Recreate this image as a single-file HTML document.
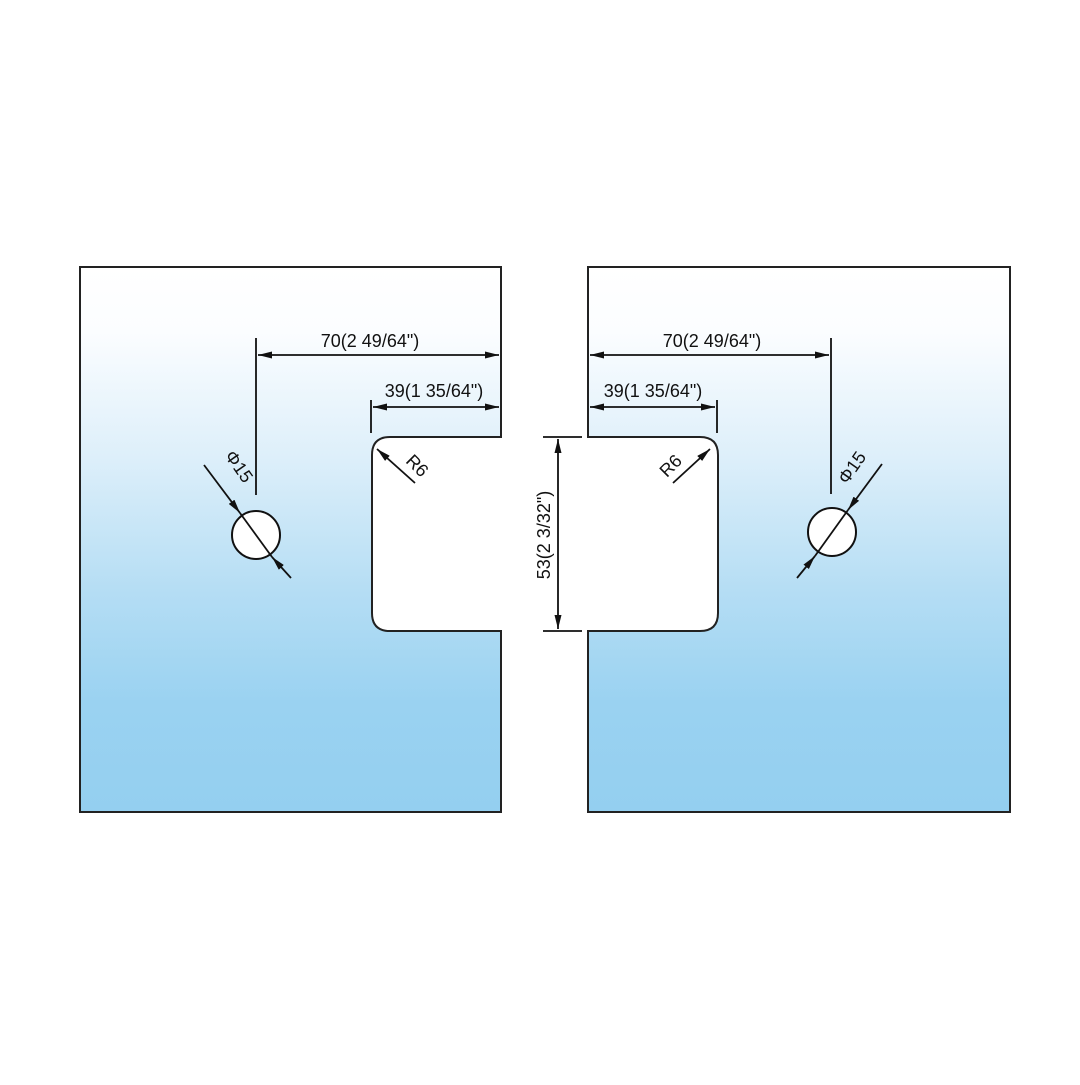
<!DOCTYPE html>
<html><head><style>html,body{margin:0;padding:0;background:#fff}</style></head>
<body>
<svg width="1080" height="1080" viewBox="0 0 1080 1080" xmlns="http://www.w3.org/2000/svg" font-family="Liberation Sans, Arial, sans-serif">
<defs>
<linearGradient id="g" x1="0" y1="267" x2="0" y2="812" gradientUnits="userSpaceOnUse">
<stop offset="0" stop-color="#ffffff"/>
<stop offset="0.12" stop-color="#fbfdff"/>
<stop offset="0.35" stop-color="#ddeffa"/>
<stop offset="0.6" stop-color="#b4ddf4"/>
<stop offset="0.8" stop-color="#9ad2f1"/>
<stop offset="1" stop-color="#94cff0"/>
</linearGradient>
<marker id="a" viewBox="0 0 14 7" refX="14" refY="3.5" markerWidth="14" markerHeight="7" orient="auto-start-reverse" markerUnits="userSpaceOnUse">
<path d="M0,0 L14,3.5 L0,7 Z" fill="#111"/></marker>
</defs>
<g stroke="#222" stroke-width="2" fill="url(#g)">
<path d="M80,267 H501 V437 H390 Q372,437 372,455 V613 Q372,631 390,631 H501 V812 H80 Z"/>
<path d="M1010,267 H588 V437 H700 Q718,437 718,455 V613 Q718,631 700,631 H588 V812 H1010 Z"/>
</g>
<g stroke="#111" stroke-width="1.8" fill="none">
<circle cx="256" cy="535" r="24" fill="#fff" stroke-width="2"/>
<circle cx="832" cy="532" r="24" fill="#fff" stroke-width="2"/>
<line x1="256" y1="338" x2="256" y2="495"/>
<line x1="258" y1="355" x2="499" y2="355" marker-start="url(#a)" marker-end="url(#a)"/>
<line x1="371" y1="400" x2="371" y2="433"/>
<line x1="373" y1="407" x2="499" y2="407" marker-start="url(#a)" marker-end="url(#a)"/>
<line x1="204" y1="465" x2="240" y2="513" marker-end="url(#a)"/>
<line x1="240" y1="513" x2="272" y2="557"/>
<line x1="291" y1="578" x2="272" y2="557" marker-end="url(#a)"/>
<line x1="415" y1="483" x2="377" y2="449" marker-end="url(#a)"/>
<line x1="543" y1="437" x2="582" y2="437"/>
<line x1="543" y1="631" x2="582" y2="631"/>
<line x1="558" y1="439" x2="558" y2="629" marker-start="url(#a)" marker-end="url(#a)"/>
<line x1="831" y1="338" x2="831" y2="494"/>
<line x1="590" y1="355" x2="829" y2="355" marker-start="url(#a)" marker-end="url(#a)"/>
<line x1="717" y1="400" x2="717" y2="433"/>
<line x1="590" y1="407" x2="715" y2="407" marker-start="url(#a)" marker-end="url(#a)"/>
<line x1="882" y1="464" x2="848" y2="510" marker-end="url(#a)"/>
<line x1="848" y1="510" x2="815" y2="556"/>
<line x1="797" y1="578" x2="815" y2="556" marker-end="url(#a)"/>
<line x1="673" y1="483" x2="710" y2="449" marker-end="url(#a)"/>
</g>
<g font-size="18" fill="#111" text-anchor="middle">
<text x="370" y="347">70(2 49/64")</text>
<text x="434" y="397">39(1 35/64")</text>
<text x="712" y="347">70(2 49/64")</text>
<text x="653" y="397">39(1 35/64")</text>
<text transform="translate(413,470) rotate(45)">R6</text>
<text transform="translate(675,470) rotate(-45)">R6</text>
<text transform="translate(234,470) rotate(55)">Φ15</text>
<text transform="translate(857,471) rotate(-55)">Φ15</text>
<text transform="translate(550,535) rotate(-90)">53(2 3/32")</text>
</g>
</svg>
</body></html>
